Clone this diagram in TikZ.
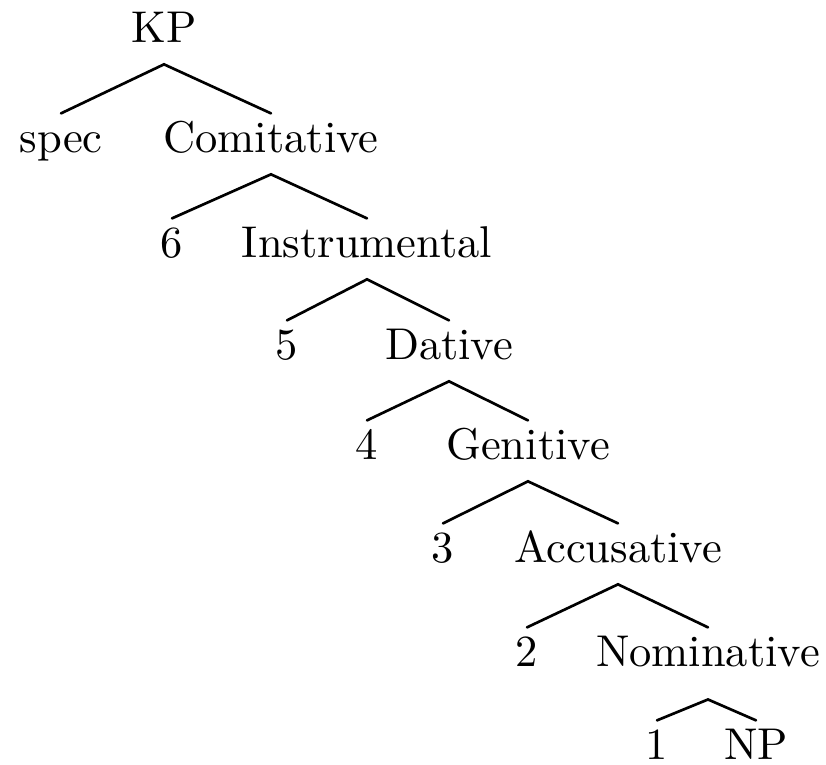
\documentclass[tikz,border=0pt]{standalone}
\usepackage{tikz}
\begin{document}
\begin{tikzpicture}[x=0.2247pt, y=-0.2247pt, line width=0.6pt,
  lbl/.style={anchor=base, inner sep=1.7pt, text height=6.9pt, text depth=2.8pt},
  branch/.style={line cap=round}]
\useasboundingbox (0, 0) rectangle (826, 765);
%Depth 0
\node[lbl] (kp) at (164, 43) {KP};
%Depth 1
\node[lbl] (spec) at (61, 153) {spec};
\node[lbl] (comitative) at (271, 153) {Comitative};
\draw[branch] (spec.north) -- (kp.south) -- (comitative.north);
%Depth 2
\node[lbl] (n6) at (172, 258) {6};
\node[lbl] (instrumental) at (367, 258) {Instrumental};
\draw[branch] (n6.north) -- (comitative.south) -- (instrumental.north);
%Depth 3
\node[lbl] (n5) at (287, 360) {5};
\node[lbl] (dative) at (449, 360) {Dative};
\draw[branch] (n5.north) -- (instrumental.south) -- (dative.north);
%Depth 4
\node[lbl] (n4) at (367, 460) {4};
\node[lbl] (genitive) at (528, 460) {Genitive};
\draw[branch] (n4.north) -- (dative.south) -- (genitive.north);
%Depth 5
\node[lbl] (n3) at (443, 563) {3};
\node[lbl] (accusative) at (618, 563) {Accusative};
\draw[branch] (n3.north) -- (genitive.south) -- (accusative.north);
%Depth 6
\node[lbl] (n2) at (527, 667) {2};
\node[lbl] (nominative) at (708, 667) {Nominative};
\draw[branch] (n2.north) -- (accusative.south) -- (nominative.north);
%Depth 7
\node[lbl] (n1) at (657, 760) {1};
\node[lbl] (np) at (756, 760) {NP};
\draw[branch] (n1.north) -- ([yshift=-2.5pt]nominative.south) -- (np.north);
\end{tikzpicture}
\end{document}
